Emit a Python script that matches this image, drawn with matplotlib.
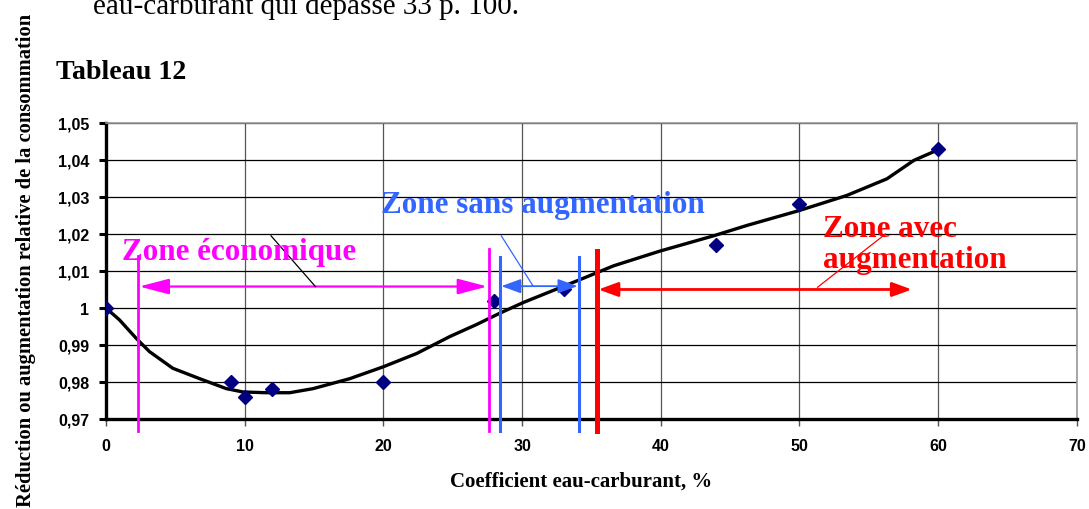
import numpy as np
import matplotlib.pyplot as plt
from matplotlib.patches import FancyArrowPatch

# measured points
coef = [0, 9, 10, 12, 20, 28, 33, 44, 50, 60]
conso = [1.000, 0.980, 0.976, 0.978, 0.980, 1.002, 1.005, 1.017, 1.028, 1.043]

# trend curve
trend_x = [0, 0.97, 2.18, 3.14, 4.82, 6.75, 8.68, 9.88, 11.57, 13.25, 14.93, 17.58, 19.99,
           22.4, 24.8, 26.7, 28.4, 30.1, 34.2, 36.6, 39.96, 43.8, 46.2, 49.95, 53.4, 56.3,
           58.25, 60.2]
trend_y = [1.000, 0.9968, 0.9918, 0.9882, 0.9837, 0.9809, 0.9782, 0.9773, 0.9771, 0.9771,
           0.9782, 0.9809, 0.9841, 0.9877, 0.9923, 0.9955, 0.9986, 1.0015, 1.0077, 1.0114,
           1.0154, 1.0195, 1.0223, 1.0263, 1.0304, 1.0349, 1.0399, 1.0431]

# zone markers
zone_lines = [2.3, 27.6, 28.4, 34.1, 35.4]
zone_tops = [1.0141, 1.0160, 1.0137, 1.0137, 1.0155]
zone_colors = ['#FF00FF', '#FF00FF', '#3366FF', '#3366FF', '#FF0000']
zone_widths = [2.0, 2.0, 2.2, 2.2, 3.6]

# x0, x1, y, colour, head length, head width, line width
arrows = [(2.4, 27.5, 1.0058, '#FF00FF', 1.3, 0.34, 1.6),
          (28.5, 34.0, 1.0059, '#3366FF', 0.85, 0.31, 1.3),
          (35.5, 58.1, 1.0050, '#FF0000', 0.85, 0.31, 2.0)]

yticks = [0.97, 0.98, 0.99, 1.00, 1.01, 1.02, 1.03, 1.04, 1.05]
ytick_labels = ['0,97', '0,98', '0,99', '1', '1,01', '1,02', '1,03', '1,04', '1,05']
xticks = [0, 10, 20, 30, 40, 50, 60, 70]

fig = plt.figure(figsize=(10.89, 5.10), dpi=100)
ax = fig.add_axes([0.0973, 0.1765, 0.8916, 0.5804])

ax.set_xlim(0, 70)
ax.set_ylim(0.97, 1.05)
ax.set_yticks(yticks)
ax.set_yticklabels(ytick_labels)
ax.set_xticks(xticks)
for lab in ax.get_xticklabels() + ax.get_yticklabels():
    lab.set_fontfamily('Liberation Sans')
    lab.set_fontweight('bold')
    lab.set_fontsize(11.5)

ax.grid(axis='y', color='black', linewidth=0.9)
ax.grid(axis='x', color='#555555', linewidth=0.9)
ax.set_axisbelow(True)
for s in ['top', 'right']:
    ax.spines[s].set_color('#999999')
    ax.spines[s].set_linewidth(1.2)
for s in ['left', 'bottom']:
    ax.spines[s].set_color('black')
    ax.spines[s].set_linewidth(2.4)
ax.tick_params(axis='y', direction='out', length=5, width=2.2, color='black', pad=7)
ax.tick_params(axis='x', direction='out', length=5, width=1, color='#555555', pad=9)

ax.plot(trend_x, trend_y, color='black', lw=2.4, zorder=3)
ax.plot(coef, conso, linestyle='none', marker='D', color='#000080', markersize=7, zorder=4)

for x, top, c, w in zip(zone_lines, zone_tops, zone_colors, zone_widths):
    ax.plot([x, x], [0.9668, top], color=c, lw=w, clip_on=False, zorder=5)

for x0, x1, y, c, hl, hw, lw in arrows:
    style = '<|-|>,head_length=%s,head_width=%s' % (hl, hw)
    ax.add_patch(FancyArrowPatch((x0, y), (x1, y), arrowstyle=style, mutation_scale=14,
                                 color=c, lw=lw, shrinkA=0, shrinkB=0, zorder=5))

# pointer lines
ax.plot([11.9, 15.1], [1.0195, 1.0058], color='black', lw=0.9, zorder=5)
ax.plot([28.5, 30.8], [1.0195, 1.0059], color='#3366FF', lw=0.9, zorder=5)
ax.plot([56.2, 51.3], [1.0200, 1.0056], color='#FF0000', lw=0.9, zorder=5)

serif = 'Liberation Serif'
ax.text(1.15, 1.0154, 'Zone économique', color='#FF00FF', fontsize=22.4, fontweight='bold',
        family=serif, va='center', ha='left', zorder=6)
ax.text(19.8, 1.0281, 'Zone sans augmentation', color='#3366FF', fontsize=22.4, fontweight='bold',
        family=serif, va='center', ha='left', zorder=6)
ax.text(51.7, 1.0173, 'Zone avec\naugmentation', color='#FF0000', fontsize=22.4, fontweight='bold',
        family=serif, va='center', ha='left', linespacing=1.1, zorder=6)

ax.set_xlabel('Coefficient eau-carburant, %', family=serif, fontweight='bold', fontsize=15)
ax.xaxis.set_label_coords(0.489, -0.175)

fig.text(0.0235, 0.4892, 'Réduction ou augmentation relative de la consommation', rotation=90,
         family=serif, fontweight='bold', fontsize=14.8, ha='center', va='center')
fig.text(56 / 1089, 1 - 73 / 510, 'Tableau 12', family=serif, fontweight='bold', fontsize=20.2,
         ha='left', va='center')
fig.text(93 / 1089, 1 - 13.5 / 510, 'eau-carburant qui dépasse 33 p. 100.', family=serif,
         fontsize=21, ha='left', va='baseline')

fig.savefig('out.png', dpi=100)
